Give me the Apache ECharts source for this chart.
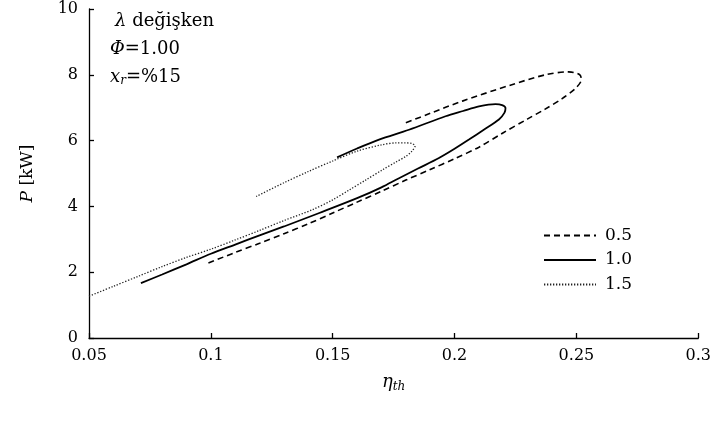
<!DOCTYPE html>
<html><head><meta charset="utf-8">
<script src="https://cdn.jsdelivr.net/npm/echarts@6/dist/echarts.min.js"></script>
<style>html,body{margin:0;padding:0;background:#fff}#c{width:714px;height:423px}</style>
</head><body><div id="c"></div>
<script>
// lambda = 0.5 (dashed)
const eta05 = [0.099,0.11,0.12,0.13,0.14,0.15,0.16,0.17,0.18,0.19,0.20,0.21,0.22,0.23,0.237,0.244,0.2495,0.252,0.2515,0.249,0.2468,0.2373,0.2235,0.2032,0.19,0.18];
const p05   = [2.28,2.6,2.88,3.17,3.47,3.8,4.13,4.46,4.8,5.12,5.45,5.8,6.24,6.66,6.95,7.27,7.58,7.85,7.99,8.07,8.09,8.0,7.7,7.2,6.83,6.54];
// lambda = 1.0 (solid)
const eta10 = [0.0713,0.08,0.09,0.10,0.11,0.12,0.13,0.1445,0.16,0.17,0.177,0.185,0.1936,0.20,0.2059,0.212,0.2182,0.2205,0.2209,0.2195,0.2168,0.21,0.2035,0.1963,0.1813,0.169,0.16,0.1518];
const p10   = [1.67,1.93,2.24,2.56,2.84,3.12,3.39,3.8,4.25,4.58,4.85,5.15,5.47,5.75,6.03,6.33,6.64,6.85,6.99,7.08,7.11,7.04,6.9,6.74,6.33,6.03,5.76,5.49];
// lambda = 1.5 (dotted)
const eta15 = [0.05,0.06,0.07,0.08,0.09,0.10,0.11,0.12,0.13,0.1417,0.15,0.1568,0.1635,0.1704,0.176,0.18,0.1825,0.1838,0.1825,0.18,0.176,0.17,0.16,0.15,0.14,0.13,0.1186];
const p15   = [1.27,1.57,1.87,2.17,2.45,2.7,2.98,3.27,3.57,3.9,4.2,4.5,4.8,5.11,5.35,5.52,5.68,5.84,5.91,5.93,5.93,5.87,5.68,5.38,5.06,4.72,4.3];
const seriesNames = ['0.5','1.0','1.5'];
const xTicks = [0.05,0.1,0.15,0.2,0.25,0.3];
const yTicks = [0,2,4,6,8,10];

const zip = (a,b) => a.map((v,i)=>[v,b[i]]);
const FONT = 'DejaVu Serif';
const chart = echarts.init(document.getElementById('c'), null, {renderer:'canvas'});
const axisCommon = {
  axisLine:{show:true,lineStyle:{color:'#000',width:1.3}},
  axisTick:{show:true,inside:true,length:5,lineStyle:{color:'#000',width:1.3}},
  splitLine:{show:false},
  axisLabel:{color:'#000',fontFamily:FONT,fontSize:16}
};
chart.setOption({
  animation:false,
  backgroundColor:'#fff',
  grid:{left:89,right:14,top:9,bottom:85},
  title:{
    left:110, top:7, padding:0,
    text:'{l|λ} değişken\n{i|Φ}=1.00\n{i|x}{s|r}=%15',
    textStyle:{
      fontFamily:FONT,fontSize:18,fontWeight:'normal',color:'#000',lineHeight:28,
      rich:{
        l:{fontFamily:FONT,fontSize:18,fontStyle:'italic',color:'#000',lineHeight:28,padding:[0,0,0,5]},
        i:{fontFamily:FONT,fontSize:18,fontStyle:'italic',color:'#000',lineHeight:28},
        s:{fontFamily:FONT,fontSize:12,fontStyle:'italic',color:'#000',lineHeight:28,padding:[8,0,0,0]}
      }
    }
  },
  legend:{
    orient:'vertical',left:543,top:227,padding:0,itemWidth:52,itemHeight:14,itemGap:7.5,
    data:seriesNames.map(n=>({name:n,itemStyle:{opacity:0}})),
    textStyle:{fontFamily:FONT,fontSize:17,color:'#000',padding:[0,0,0,4]}
  },
  xAxis:Object.assign({},axisCommon,{
    type:'value',min:xTicks[0],max:xTicks[xTicks.length-1],interval:0.05,
    name:'{i|η}{s|th}',nameLocation:'middle',nameGap:34,
    nameTextStyle:{rich:{
      i:{fontFamily:FONT,fontSize:18,fontStyle:'italic',color:'#000'},
      s:{fontFamily:FONT,fontSize:12,fontStyle:'italic',color:'#000',padding:[9,0,0,0]}
    }},
    axisLabel:Object.assign({},axisCommon.axisLabel,{margin:10,formatter:v=>String(+v.toFixed(2))})
  }),
  yAxis:Object.assign({},axisCommon,{
    type:'value',min:yTicks[0],max:yTicks[yTicks.length-1],interval:2,
    name:'{i|P} [kW]',nameLocation:'middle',nameGap:53,nameRotate:90,
    nameTextStyle:{fontFamily:FONT,fontSize:17,color:'#000',rich:{
      i:{fontFamily:FONT,fontSize:17,fontStyle:'italic',color:'#000'}
    }},
    axisLabel:Object.assign({},axisCommon.axisLabel,{margin:11})
  }),
  series:[
    {name:seriesNames[0],type:'line',data:zip(eta05,p05),symbol:'none',smooth:0.3,
     lineStyle:{color:'#000',width:1.6,type:[6,4]},itemStyle:{color:'#000'}},
    {name:seriesNames[1],type:'line',data:zip(eta10,p10),symbol:'none',smooth:0.3,
     lineStyle:{color:'#000',width:1.8,type:'solid'},itemStyle:{color:'#000'}},
    {name:seriesNames[2],type:'line',data:zip(eta15,p15),symbol:'none',smooth:0.3,
     lineStyle:{color:'#222',width:1.3,type:[1.3,1.7]},itemStyle:{color:'#222'}}
  ]
});
</script></body></html>
